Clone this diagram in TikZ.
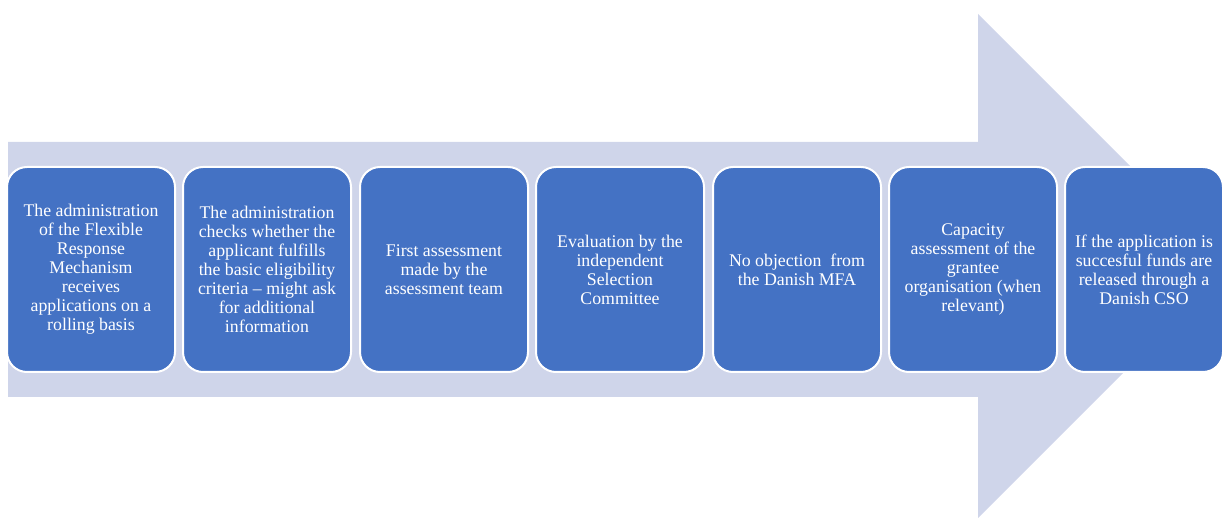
\documentclass[tikz,border=0pt]{standalone}
\usepackage{fontspec}
\setmainfont{Liberation Serif}
\definecolor{arrowfill}{HTML}{CFD5EA}
\definecolor{boxfill}{HTML}{4472C4}
\begin{document}
\begin{tikzpicture}[x=1pt,y=-1pt,
  stepbox/.style={rectangle, rounded corners=20pt, draw=white, line width=2pt,
    fill=boxfill, text=white, align=center, inner sep=0pt,
    minimum width=168pt, minimum height=205pt,
    font=\fontsize{17.8}{19}\selectfont}]
\useasboundingbox (0,0) rectangle (1224,518);
\begin{scope}
\clip (0,0) rectangle (1224,518);
\fill[arrowfill] (8,142) -- (978,142) -- (978,14) -- (1230,266) -- (978,518) -- (978,397) -- (8,397) -- cycle;
\end{scope}
\node[stepbox] (s1) at (91,269.5) {The administration\\of the Flexible\\Response\\Mechanism\\receives\\applications on a\\rolling basis};
\node[stepbox] (s2) at (267,269.5) {The administration\\checks whether the\\applicant fulfills\\the basic eligibility\\criteria -- might ask\\for additional\\information};
\node[stepbox] (s3) at (444,269.5) {First assessment\\made by the\\assessment team};
\node[stepbox] (s4) at (620,269.5) {Evaluation by the\\independent\\Selection\\Committee};
\node[stepbox] (s5) at (797,269.5) {No objection\ \ from\\the Danish MFA};
\node[stepbox] (s6) at (973,269.5) {Capacity\\assessment of the\\grantee\\organisation (when\\relevant)};
\node[stepbox, minimum width=158pt] (s7) at (1144,269.5) {If the application is\\succesful funds are\\released through a\\Danish CSO};
\end{tikzpicture}
\end{document}
